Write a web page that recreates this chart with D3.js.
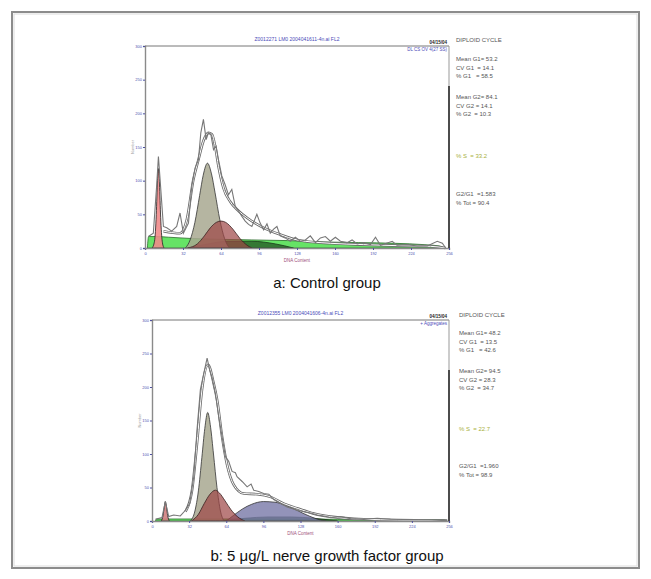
<!DOCTYPE html>
<html>
<head>
<meta charset="utf-8">
<script src="https://cdn.jsdelivr.net/npm/d3@7"></script>
<style>
  body { margin: 0; background: #fff; }
  svg text { font-family: "Liberation Sans", Arial, sans-serif; }
</style>
</head>
<body>
<div id="chart"></div>
<script>
var W = 651, H = 579;

// axis ticks (shared by both panels)
var xTicks = [0, 32, 64, 96, 128, 160, 192, 224, 256],
    yTicks = [0, 50, 100, 150, 200, 250, 300];

// ---- panel a: control group, [channel, count] ----
var rawA = [[2.8,17],[7,22],[9.8,92],[11.3,136],[12.7,102],[15.5,32],[18.3,30],[22.5,25],[26.7,32],[29.5,52],
  [32.3,22],[36.6,37],[39.4,92],[42.2,119],[45,131],[47,171],[49.2,191],[51.5,161],[53.4,171],[55.4,169],
  [57.7,146],[59.9,151],[61.9,131],[64.7,107],[67.5,94],[70.3,79],[73.1,87],[76,62],[78.8,55],[81.6,47],
  [84.4,40],[87.2,35],[90,32],[94.2,50],[97,37],[99.9,27],[102.7,36],[105.5,22],[108.3,28],[111.1,32],
  [113.9,18],[118,15],[122.4,10],[126.6,16],[130.8,10],[135,12],[139.2,18],[143.5,8],[147.7,15],[151.9,17],
  [156.1,10],[160.3,16],[164.6,10],[170.2,8],[174.4,12],[178.6,6],[184.2,8],[189.9,5],[194.1,16],[198.3,4],
  [208.2,10],[212.4,4],[220.8,5],[229.3,3],[237.7,3],[246.1,10],[250.4,7],[253.2,0]];
var fitA = [[15.5,25],[29.5,22],[35.2,42],[40.8,102],[45,131],[49.2,159],[53.4,171],[56.3,169],[59.1,151],
  [61.9,121],[66.1,89],[71.7,69],[78.8,55],[85.8,45],[99.9,30],[113.9,20],[128,12],[156,7],[184,5],
  [212,3.5],[240.5,2.5],[253,0]];
var debrisA = [[6,0],[8,10],[9.5,50],[10.5,100],[11.3,118],[12.2,95],[13.2,45],[14.5,10],[16,0]];
var g1A = [[34,0],[38,12],[42,38],[46,78],[49,108],[52.6,126],[56,110],[59,82],[63,42],[67,14],[71,0]];
var g2A = [[36,0],[44,6],[50,18],[55,30],[60,38],[64,40],[68,38],[74,28],[80,14],[86,4],[90,0]];
var sA = [[2,0],[3,17],[10,17],[20,16],[40,14],[60,13],[90,12],[120,11],[150,9],[180,8],[210,7],[235,5],[248,3],[252,0]];
var aggA = [[35,0],[50,5],[70,10],[90,10],[110,6],[125,0]];
var statsA = [["DIPLOID CYCLE"], ["Mean G1= 53.2", "CV G1  = 14.1", "% G1   = 58.5"],
  ["Mean G2= 84.1", "CV G2 = 14.1", "% G2  = 10.3"], ["% S  = 33.2"], ["G2/G1  =1.583", "% Tot = 90.4"]];

// ---- panel b: 5 ug/L NGF group ----
var rawB = [[2.9,2.5],[8.6,5],[11.5,29],[14.4,6.5],[18.7,9],[24.4,7.5],[28.8,16],[32.5,26],[36,66],[38.8,136],
  [41.7,196],[44.6,220],[47.5,243],[49.8,225],[51.8,214],[54.6,191],[57.5,156],[60.4,126],[63.3,96],[66.1,89],
  [69,74],[71.9,72],[73.3,66],[77.7,59],[82,51],[85.4,55],[87.7,46],[92,44],[96.3,41],[100.7,40],[105,32],
  [110.7,26],[116.5,21],[125.1,16],[130.9,14],[136.6,12],[142.4,9],[148.1,7.5],[153.9,5],[162.5,6.5],
  [171.1,3.5],[182.6,2.5],[194.1,4],[205.6,2.5],[225.8,2],[240,1.5],[254.5,0.5]];
var fitB = [[28.8,14],[34.5,46],[38.8,116],[43.1,196],[48.3,233],[53.2,205],[56.1,181],[60.4,126],[64.7,84],
  [70.5,54],[79.1,41],[90.6,40],[102.1,36],[113.6,26],[125.1,19],[139.5,11],[153.9,6.5],[182.6,2.5],
  [211.4,1.5],[254.5,0.5]];
var debrisB = [[8,0],[9.5,8],[10.5,20],[11.5,29],[12.5,21],[13.5,8],[15,0]];
var g1B = [[33,0],[37,15],[40,45],[43,95],[45.5,138],[48,162],[50.5,140],[53,100],[56,50],[59,15],[62,0]];
var g2B = [[34,0],[40,10],[45,26],[50,40],[54.6,46],[58,42],[63,30],[68,17],[74,6],[80,0]];
var blueB = [[64,0],[70,8],[78,18],[86,25],[96,29],[106,28],[116,23],[126,15],[136,7],[144,2],[150,0]];
var sB = [[3,0],[4,3],[40,3],[100,3],[160,2.5],[220,2],[252,1.5],[254,0]];
var aggB = [[60,0],[80,4],[100,6],[120,6],[140,4],[160,0]];
var statsB = [["DIPLOID CYCLE"], ["Mean G1= 48.2", "CV G1  = 13.5", "% G1   = 42.6"],
  ["Mean G2= 94.5", "CV G2 = 28.3", "% G2  = 34.7"], ["% S  = 22.7"], ["G2/G1  =1.960", "% Tot = 98.9"]];

var svg = d3.select('#chart').append('svg')
    .attr('width', W)
    .attr('height', H);

// outer frame
svg.append('rect')
    .attr('x', 12).attr('y', 12).attr('width', 627).attr('height', 556)
    .attr('fill', 'none').attr('stroke', '#8c8c8c').attr('stroke-width', 2);
svg.append('rect')
    .attr('x', 14).attr('y', 14).attr('width', 623).attr('height', 552)
    .attr('fill', 'none').attr('stroke', '#dcdcdc').attr('stroke-width', 1);

function panel(p) {
    var x = d3.scaleLinear().domain([0, 256]).range([p.left, p.right]),
        y = d3.scaleLinear().domain([0, 300]).range([p.bottom, p.top]);
    var g = svg.append('g');

    var area = d3.area()
        .x(function(d){ return x(d[0]); })
        .y0(y(0))
        .y1(function(d){ return y(d[1]); })
        .curve(d3.curveMonotoneX);
    var line = d3.line()
        .x(function(d){ return x(d[0]); })
        .y(function(d){ return y(d[1]); });

    // model components
    p.comps.forEach(function(c) {
        g.append('path').datum(c.data)
            .attr('d', area)
            .attr('fill', c.fill)
            .attr('fill-opacity', c.op)
            .attr('stroke', c.stroke)
            .attr('stroke-width', 0.8);
    });

    // fitted envelope (double line)
    g.append('path').datum(p.fit)
        .attr('d', line.curve(d3.curveMonotoneX))
        .attr('fill', 'none').attr('stroke', '#6a6a6a').attr('stroke-width', 2.6);
    g.append('path').datum(p.fit)
        .attr('d', line)
        .attr('fill', 'none').attr('stroke', '#fff').attr('stroke-width', 1);

    // raw histogram
    g.append('path').datum(p.raw)
        .attr('d', line.curve(d3.curveLinear))
        .attr('fill', 'none').attr('stroke', '#777').attr('stroke-width', 1.1);

    // axes
    var xAxis = d3.axisBottom(x).tickValues(xTicks).tickSize(2).tickPadding(2);
    var yAxis = d3.axisLeft(y).tickValues(yTicks).tickSize(2).tickPadding(1);
    var gx = g.append('g').attr('transform', 'translate(0,' + p.bottom + ')').call(xAxis);
    var gy = g.append('g').attr('transform', 'translate(' + p.left + ',0)').call(yAxis);
    [gx, gy].forEach(function(a) {
        a.select('.domain').attr('stroke', '#8a8a8a').attr('stroke-width', 1.4);
        a.selectAll('.tick line').attr('stroke', '#5050a0');
        a.selectAll('.tick text').attr('fill', '#5050b0').style('font-size', '4px');
    });

    // frame top and right
    g.append('line').attr('x1', p.left).attr('x2', p.right).attr('y1', p.top).attr('y2', p.top)
        .attr('stroke', '#777').attr('stroke-width', 1);
    g.append('line').attr('x1', p.right).attr('x2', p.right).attr('y1', p.top).attr('y2', p.bottom)
        .attr('stroke', '#999').attr('stroke-width', 1);
    g.append('line').attr('x1', p.right).attr('x2', p.right).attr('y1', p.darkTop).attr('y2', p.bottom)
        .attr('stroke', '#222').attr('stroke-width', 1.5);

    // header texts
    g.append('text').attr('x', (p.left + p.right) / 2).attr('y', p.top - 5)
        .attr('text-anchor', 'middle').attr('fill', '#4a4ab8').style('font-size', '5px')
        .text(p.title);
    g.append('text').attr('x', p.right - 2).attr('y', p.top - 2)
        .attr('text-anchor', 'end').attr('fill', '#222').style('font-size', '4.5px').style('font-weight', 'bold')
        .text('04/15/04');
    g.append('text').attr('x', p.right - 2).attr('y', p.top + 5)
        .attr('text-anchor', 'end').attr('fill', '#4a4ab8').style('font-size', '4.5px')
        .text(p.sub);

    // axis titles
    g.append('text').attr('x', (p.left + p.right) / 2).attr('y', p.bottom + 14)
        .attr('text-anchor', 'middle').attr('fill', '#a0507a').style('font-size', '4.5px')
        .text('DNA Content');
    g.append('text').attr('transform', 'translate(' + (p.left - 11) + ',' + ((p.top + p.bottom) / 2) + ') rotate(-90)')
        .attr('text-anchor', 'middle').attr('fill', '#999').style('font-size', '4px')
        .text('Number');

    // statistics block
    var ty = p.statsY;
    p.stats.forEach(function(grp, gi) {
        grp.forEach(function(s, si) {
            g.append('text').attr('x', p.statsX).attr('y', ty[gi] + si * 8.6)
                .attr('fill', gi === 3 ? '#a8b040' : '#555')
                .style('font-size', '6px')
                .style('white-space', 'pre')
                .text(s);
        });
    });

    // caption
    svg.append('text').attr('x', 327).attr('y', p.capY)
        .attr('text-anchor', 'middle').attr('fill', '#111').style('font-size', '15px')
        .text(p.caption);
}

panel({
    left: 145, right: 449, top: 46, bottom: 248, darkTop: 86,
    raw: rawA, fit: fitA,
    comps: [
        {data: sA, fill: '#55e055', op: 0.9, stroke: '#2a6a2a'},
        {data: aggA, fill: '#1f4a1f', op: 0.7, stroke: '#1a3a1a'},
        {data: g1A, fill: '#a8a890', op: 0.85, stroke: '#333'},
        {data: g2A, fill: '#9c4444', op: 0.7, stroke: '#3a2020'},
        {data: debrisA, fill: '#f08a8a', op: 0.9, stroke: '#222'}
    ],
    title: 'Z0012271 LM0 2004041611-4n.ai FL2',
    sub: 'DL CS OV 4(27 SS)',
    stats: statsA, statsX: 456, statsY: [42, 61, 99, 158, 196],
    caption: 'a: Control group', capY: 288
});

panel({
    left: 152, right: 449, top: 320, bottom: 521, darkTop: 370,
    raw: rawB, fit: fitB,
    comps: [
        {data: sB, fill: '#55e055', op: 0.9, stroke: '#2a6a2a'},
        {data: aggB, fill: '#1f4a1f', op: 0.7, stroke: '#1a3a1a'},
        {data: blueB, fill: '#7878a8', op: 0.8, stroke: '#333'},
        {data: g1B, fill: '#a8a890', op: 0.85, stroke: '#333'},
        {data: g2B, fill: '#9c4444', op: 0.7, stroke: '#3a2020'},
        {data: debrisB, fill: '#d08080', op: 0.9, stroke: '#222'}
    ],
    title: 'Z0012355 LM0 2004041606-4n.ai FL2',
    sub: '+ Aggregates',
    stats: statsB, statsX: 459, statsY: [317, 335, 373, 431, 468],
    caption: 'b: 5 \u03bcg/L nerve growth factor group', capY: 561
});
</script>
</body>
</html>
